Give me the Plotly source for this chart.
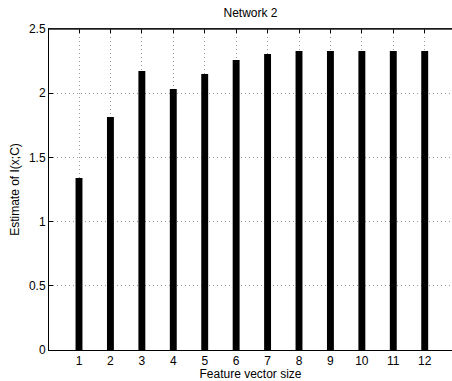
import plotly.graph_objects as go

categories = [1, 2, 3, 4, 5, 6, 7, 8, 9, 10, 11, 12]
values = [1.34, 1.815, 2.173, 2.033, 2.15, 2.259, 2.305, 2.329, 2.329, 2.329, 2.329, 2.329]
y_ticks = [0, 0.5, 1, 1.5, 2, 2.5]
y_tick_labels = ["0", "0.5", "1", "1.5", "2", "2.5"]

fig = go.Figure(go.Bar(x=categories, y=values, width=0.22,
                       marker=dict(color="black", line=dict(width=0))))

font = dict(family="Liberation Sans, Arial, sans-serif", size=12, color="black")
fig.update_layout(
    width=452, height=381,
    margin=dict(l=49, r=0, t=29, b=31),
    paper_bgcolor="white", plot_bgcolor="white",
    font=font,
    showlegend=False,
    title=dict(text="Network 2", x=0.5, xref="paper", y=1, yref="container",
               yanchor="top", pad=dict(t=9), font=dict(size=12)),
    shapes=[dict(type="line", xref="paper", yref="paper", x0=0, x1=1, y0=1, y1=1,
                 line=dict(color="#222222", width=1.5), layer="above")],
)
fig.update_xaxes(
    range=[0.0455, 12.868], tickvals=categories, ticktext=[str(c) for c in categories],
    showgrid=True, gridcolor="#9a9a9a", griddash="1px,3px", gridwidth=1,
    showline=True, linecolor="black", linewidth=1, mirror="allticks",
    ticks="inside", ticklen=4, tickcolor="black",
    title=dict(text="Feature vector size", standoff=0, font=dict(size=12)),
    zeroline=False,
)
fig.update_yaxes(
    range=[0, 2.5], tickvals=y_ticks, ticktext=y_tick_labels,
    showgrid=True, gridcolor="#9a9a9a", griddash="1px,3px", gridwidth=1,
    showline=True, linecolor="black", linewidth=1,
    ticks="inside", ticklen=4, tickcolor="black",
    title=dict(text="Estimate of I(x;C)", standoff=6, font=dict(size=12)),
    zeroline=False,
)
fig.write_html("out.html")
